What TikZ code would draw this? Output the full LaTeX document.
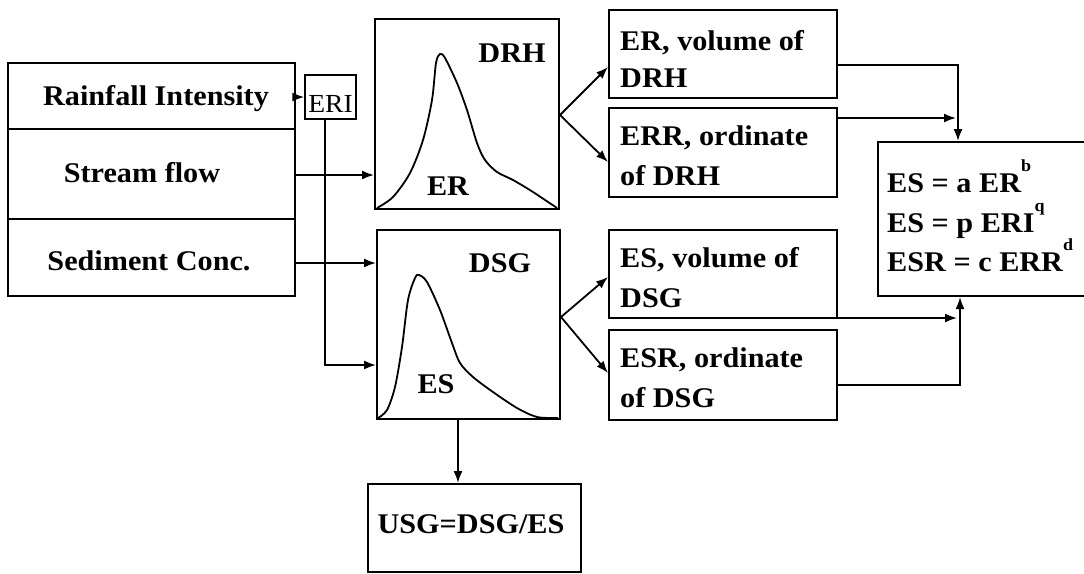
\documentclass[tikz,border=0pt]{standalone}
\usepackage{fontspec}
\setmainfont{Liberation Serif}[FakeStretch=1.06]
\usetikzlibrary{arrows.meta}
\newcommand{\supx}[1]{\raisebox{21pt}{\fontsize{17}{17}\selectfont\bfseries #1}}
\tikzset{
  box/.style={draw, line width=2pt, inner sep=0pt},
  lbl/.style={inner sep=0pt, font=\fontsize{28.5}{34}\selectfont\bfseries},
  arr/.style={line width=1.8pt, -{Latex[length=12pt,width=9pt]}},
  curve/.style={line width=1.8pt, smooth, tension=0.5}
}
\begin{document}
\begin{tikzpicture}[x=1pt,y=-1pt]
\useasboundingbox (0,0) rectangle (1084,573);
% left stacked boxes
\node[box, minimum width=287pt, minimum height=66pt] (rf) at (151.5,96) {};
\node[box, minimum width=287pt, minimum height=90pt] (sf) at (151.5,174) {};
\node[box, minimum width=287pt, minimum height=77pt] (sc) at (151.5,257.5) {};
\node[lbl, anchor=base] (rft) at (156,105) {Rainfall Intensity};
\node[lbl, anchor=base] (sft) at (142,182) {Stream flow};
\node[lbl, anchor=base] (sct) at (149,270) {Sediment Conc.};
% ERI
\node[box, line width=1.5pt, minimum width=51pt, minimum height=44pt] (eri) at (330.5,97) {};
\node[inner sep=0pt, anchor=base, font=\fontsize{26}{26}\selectfont] (erit) at (330.5,112) {ERI};
% DRH
\node[box, minimum width=184pt, minimum height=190pt] (drh) at (467,114) {};
\node[lbl, anchor=base] (drht) at (512,62) {DRH};
\node[lbl, anchor=base] (drhe) at (448,195) {ER};
\draw[curve] plot coordinates {(377,208) (393,197) (410,173) (423,140) (432,100) (436,63) (440,54) (445,58) (457,83) (467,110) (477,143) (485,160) (497,172) (513,180) (533,192) (557,208)};
% DSG
\node[box, minimum width=183pt, minimum height=189pt] (dsg) at (468.5,324.5) {};
\node[lbl, anchor=base] (dsgt) at (500,272) {DSG};
\node[lbl, anchor=base] (dsge) at (436,393) {ES};
\draw[curve] plot coordinates {(378,418) (387,410) (395,387) (402,347) (408,300) (415,278) (419,275) (427,282) (440,310) (452,343) (460,363) (473,377) (493,392) (517,408) (537,417) (558,418)};
% USG
\node[box, minimum width=213pt, minimum height=88pt] (usg) at (474.5,528) {};
\node[lbl, anchor=base] (usgt) at (471,533) {USG=DSG/ES};
% right boxes
\node[box, minimum width=228pt, minimum height=88pt] (erv) at (723,54) {};
\node[box, minimum width=228pt, minimum height=89pt] (err) at (723,152.5) {};
\node[box, minimum width=228pt, minimum height=88pt] (esv) at (723,274) {};
\node[box, minimum width=228pt, minimum height=90pt] (esr) at (723,375) {};
\node[lbl, anchor=base west] (erv1) at (620,50) {ER, volume of};
\node[lbl, anchor=base west] (erv2) at (620,87) {DRH};
\node[lbl, anchor=base west] (err1) at (620,145) {ERR, ordinate};
\node[lbl, anchor=base west] (err2) at (620,185) {of DRH};
\node[lbl, anchor=base west] (esv1) at (620,267) {ES, volume of};
\node[lbl, anchor=base west] (esv2) at (620,307) {DSG};
\node[lbl, anchor=base west] (esr1) at (620,367) {ESR, ordinate};
\node[lbl, anchor=base west] (esr2) at (620,407) {of DSG};
% equation box
\node[box, minimum width=214pt, minimum height=154pt] (eq) at (985,219) {};
\node[lbl, anchor=base west] (eq1) at (887,192) {ES = a ER\supx{b}};
\node[lbl, anchor=base west] (eq2) at (887,232) {ES = p ERI\supx{q}};
\node[lbl, anchor=base west] (eq3) at (887,271) {ESR = c ERR\supx{d}};
% connectors
\draw[arr] (rf.east|-eri.west) -- (eri.west);
\draw[arr] (sf.east|-0,175) -- (drh.west|-0,175);
\draw[arr] (sc.east|-0,263) -- (dsg.west|-0,263);
\draw[arr] (eri.south-|325,0) -- (325,365) -- (dsg.west|-0,365);
\coordinate (f1) at (drh.east|-0,115);
\draw[arr] (f1) -- (erv.west|-0,67);
\draw[arr] (f1) -- (err.west|-0,162);
\coordinate (f2) at (dsg.east|-0,317);
\draw[arr] (f2) -- (esv.west|-0,277);
\draw[arr] (f2) -- (esr.west|-0,373);
\draw[arr] (dsg.south-|458,0) -- (usg.north-|458,0);
\draw[arr] (erv.east|-0,65) -- (958,65) -- (eq.north-|958,0);
\coordinate (j1) at (956,118);
\draw[arr] (err.east|-0,118) -- (j1);
\coordinate (j2) at (957,318);
\draw[arr] (esv.east|-0,318) -- (j2);
\draw[arr] (esr.east|-0,385) -- (960,385) -- (eq.south-|960,0);
\end{tikzpicture}
\end{document}
